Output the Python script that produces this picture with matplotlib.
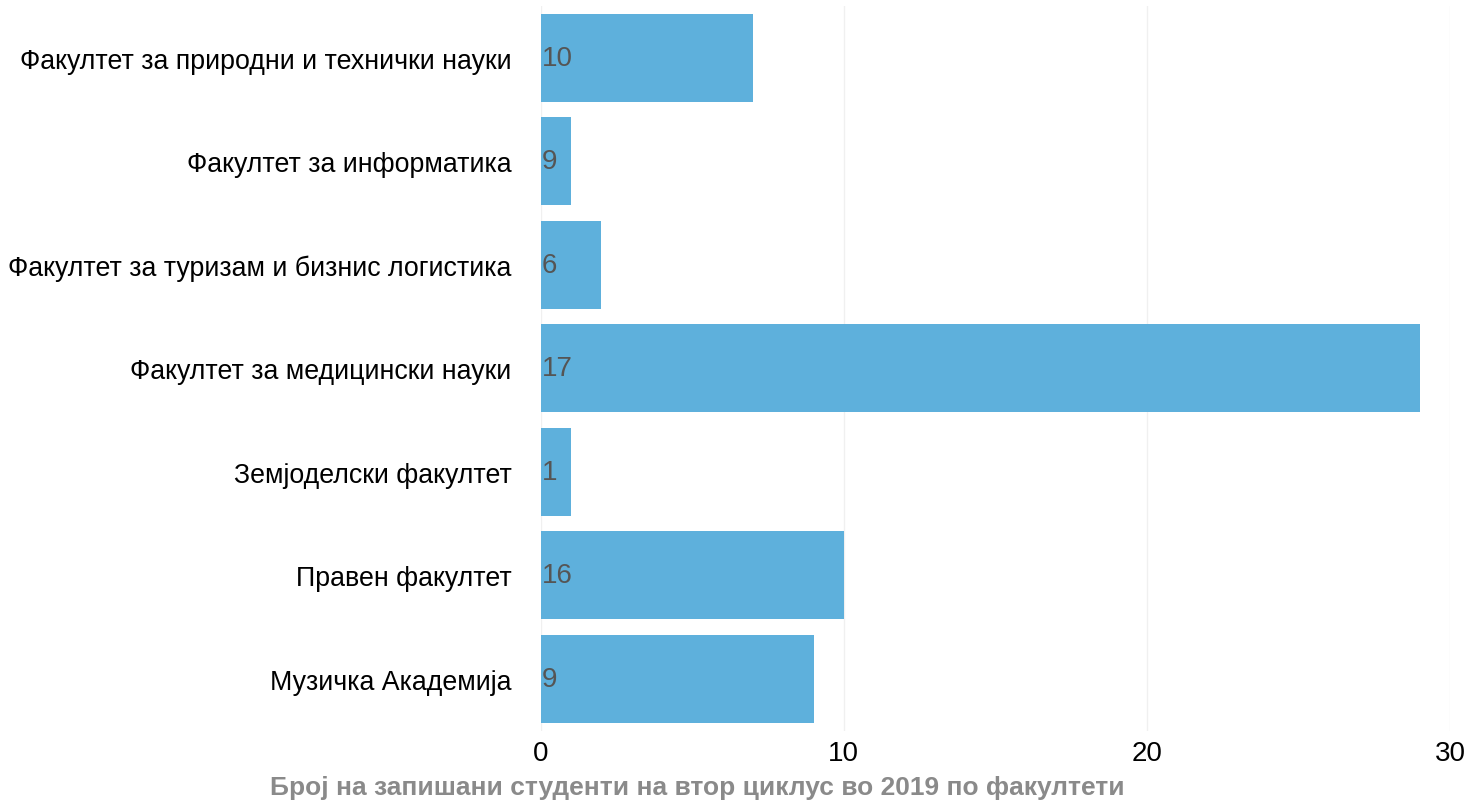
import matplotlib.pyplot as plt

faculties = [
    "Факултет за природни и технички науки",
    "Факултет за информатика",
    "Факултет за туризам и бизнис логистика",
    "Факултет за медицински науки",
    "Земјоделски факултет",
    "Правен факултет",
    "Музичка Академија",
]
# bar lengths as drawn in the chart
bar_values = [7, 1, 2, 29, 1, 10, 9]
# numbers printed inside the bars
bar_labels = ["10", "9", "6", "17", "1", "16", "9"]
x_ticks = [0, 10, 20, 30]
title = "Број на запишани студенти на втор циклус во 2019 по факултети"

plt.rcParams['font.family'] = ['Liberation Sans', 'DejaVu Sans']

fig = plt.figure(figsize=(14.65, 8.04), dpi=100)
ax = fig.add_axes([0.369, 0.09, 0.621, 0.901])

pos = list(range(len(faculties)))
ax.barh(pos, bar_values, height=0.85, color="#5eb0dc", zorder=2)

for p, v in zip(pos, bar_labels):
    ax.text(0.05, p, v, va="center", ha="left", fontsize=20, color="#555555", zorder=3)

ax.set_ylim(len(faculties) - 0.5, -0.5)
ax.set_xlim(0, 30)
ax.set_yticks(pos)
ax.set_yticklabels(faculties, fontsize=19.3)
ax.set_xticks(x_ticks)
ax.set_xticklabels([str(t) for t in x_ticks], fontsize=20)
ax.tick_params(length=0)
ax.tick_params(axis="y", pad=21)
ax.tick_params(axis="x", pad=7)

ax.grid(axis="x", color="#f0f0f0", linewidth=1, zorder=0)
for s in ax.spines.values():
    s.set_visible(False)

fig.text(0.476, 0.02, title, ha="center", va="center", fontsize=19,
         fontweight="bold", color="#8a8a8a")

fig.savefig("out.png", dpi=100, facecolor="white")
